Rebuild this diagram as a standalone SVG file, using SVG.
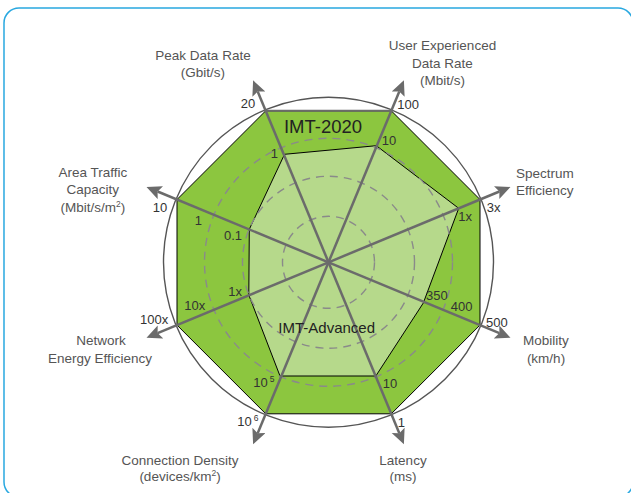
<svg xmlns="http://www.w3.org/2000/svg" width="631" height="493" viewBox="0 0 631 493">
  <style>
    .lbl { font-family: "Liberation Sans", Arial, sans-serif; font-size: 13.5px; fill: #555; text-anchor: middle; }
    .lbls { font-family: "Liberation Sans", Arial, sans-serif; font-size: 13.5px; fill: #555; }
    .sc { font-family: "Liberation Sans", Arial, sans-serif; font-size: 13px; fill: #333; }
    .sce { font-family: "Liberation Sans", Arial, sans-serif; font-size: 13px; fill: #333; text-anchor: end; }
    .sup { font-size: 8.5px; }
    .axis { stroke: #6b6b6b; stroke-width: 2.5; fill: none; marker-end: url(#arr); }
    .dash { fill: none; stroke: #8a8a8a; stroke-width: 1.4; stroke-dasharray: 8 6; }
  </style>
  <defs>
    <marker id="arr" markerUnits="userSpaceOnUse" markerWidth="16" markerHeight="15" refX="3" refY="7" orient="auto">
      <path d="M0,0 L15,7 L0,14 L3,7 z" fill="#6b6b6b"/>
    </marker>
  </defs>

  <rect id="frame" x="4" y="8" width="629" height="489" rx="15" fill="#fff" stroke="#29a8e0" stroke-width="1.5"/>

  <g id="imt2020">
    <polygon points="265.7,110.8 391.3,110.8 480,199.5 480,325.1 391.3,413.8 265.7,413.8 177,325.1 177,199.5" fill="#8cc63f" stroke="#000" stroke-width="1"/>
    <line x1="265.7" y1="110.8" x2="391.3" y2="110.8" stroke="#6b6b6b" stroke-width="2"/>
  </g>
  <g id="imtadvanced">
    <polygon points="284.5,154.3 376.3,145.7 458.7,208.3 423.3,303 375.8,376 280,376 248.8,295 249.3,229.3" fill="#b6d98b" stroke="#000" stroke-width="1"/>
  </g>
  <g id="rings">
    <circle class="dash" cx="328.5" cy="262.3" r="46"/>
    <circle class="dash" cx="328.5" cy="262.3" r="86"/>
    <circle class="dash" cx="328.5" cy="262.3" r="124"/>
    <circle cx="328.5" cy="262.3" r="165" fill="none" stroke="#555" stroke-width="1.4"/>
  </g>

  <g id="connectors">
    <line class="axis" x1="328.5" y1="262.3" x2="257.7" y2="91.4"/>
    <line class="axis" x1="328.5" y1="262.3" x2="399.3" y2="91.4"/>
    <line class="axis" x1="328.5" y1="262.3" x2="499.4" y2="191.5"/>
    <line class="axis" x1="328.5" y1="262.3" x2="499.4" y2="333.1"/>
    <line class="axis" x1="328.5" y1="262.3" x2="399.3" y2="433.2"/>
    <line class="axis" x1="328.5" y1="262.3" x2="257.7" y2="433.2"/>
    <line class="axis" x1="328.5" y1="262.3" x2="157.6" y2="333.1"/>
    <line class="axis" x1="328.5" y1="262.3" x2="157.6" y2="191.5"/>
  </g>

  <g id="series-labels">
    <text x="323" y="132.7" font-family="Liberation Sans, Arial, sans-serif" font-size="18.5" fill="#222" text-anchor="middle">IMT-2020</text>
    <text x="326.7" y="333.3" font-family="Liberation Sans, Arial, sans-serif" font-size="15" fill="#222" text-anchor="middle">IMT-Advanced</text>
  </g>

  <g id="peak">
    <text class="lbl" x="203" y="59.5">Peak Data Rate</text>
    <text class="lbl" x="203" y="76.5">(Gbit/s)</text>
    <text class="sc" x="240.7" y="108.3">20</text>
    <text class="sce" x="278" y="158.3">1</text>
  </g>
  <g id="user">
    <text class="lbl" x="442.5" y="50">User Experienced</text>
    <text class="lbl" x="442.5" y="67.5">Data Rate</text>
    <text class="lbl" x="442.5" y="85">(Mbit/s)</text>
    <text class="sc" x="397.3" y="109.3">100</text>
    <text class="sc" x="381.7" y="145">10</text>
  </g>
  <g id="spectrum">
    <text class="lbls" x="516" y="177.5">Spectrum</text>
    <text class="lbls" x="516" y="195">Efficiency</text>
    <text class="sc" x="486.7" y="211.7">3x</text>
    <text class="sc" x="458.3" y="220.7">1x</text>
  </g>
  <g id="mobility">
    <text class="lbl" x="546" y="345">Mobility</text>
    <text class="lbl" x="546" y="362.5">(km/h)</text>
    <text class="sc" x="426" y="300">350</text>
    <text class="sc" x="450.7" y="310.7">400</text>
    <text class="sc" x="486" y="327.3">500</text>
  </g>
  <g id="latency">
    <text class="lbl" x="403" y="465">Latency</text>
    <text class="lbl" x="403" y="481">(ms)</text>
    <text class="sc" x="382.7" y="388.3">10</text>
    <text class="sce" x="405" y="426.7">1</text>
  </g>
  <g id="connection">
    <text class="lbl" x="180" y="465">Connection Density</text>
    <text class="lbl" x="180" y="481">(devices/km<tspan class="sup" dy="-5">2</tspan><tspan dy="5">)</tspan></text>
    <text class="sc" x="253.3" y="386.7">10<tspan class="sup" dx="2" dy="-5">5</tspan></text>
    <text class="sc" x="237.3" y="425.7">10<tspan class="sup" dx="2" dy="-5">6</tspan></text>
  </g>
  <g id="network">
    <text class="lbl" x="101" y="345">Network</text>
    <text class="lbl" x="100" y="362.5">Energy Efficiency</text>
    <text class="sc" x="140" y="324">100x</text>
    <text class="sc" x="184.3" y="310">10x</text>
    <text class="sc" x="228.3" y="296">1x</text>
  </g>
  <g id="area">
    <text class="lbl" x="92.8" y="176.7">Area Traffic</text>
    <text class="lbl" x="92.8" y="194.3">Capacity</text>
    <text class="lbl" x="92.8" y="212">(Mbit/s/m<tspan class="sup" dy="-5">2</tspan><tspan dy="5">)</tspan></text>
    <text class="sc" x="152.7" y="212.3">10</text>
    <text class="sce" x="202" y="225">1</text>
    <text class="sc" x="224" y="240">0.1</text>
  </g>
</svg>
